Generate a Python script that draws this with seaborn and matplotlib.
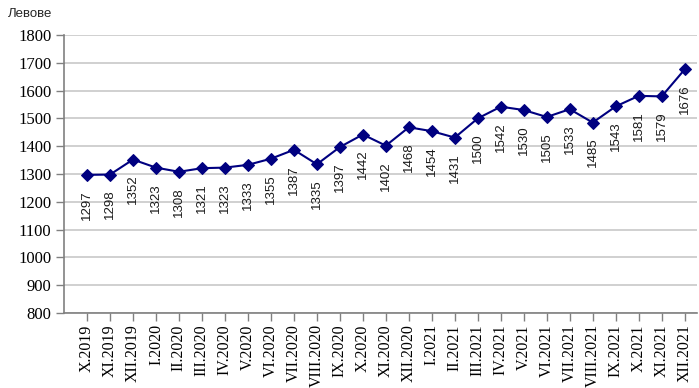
import seaborn as sns
import pandas as pd
import numpy as np
import matplotlib.pyplot as plt

months = ['X.2019', 'XI.2019', 'XII.2019',
          'I.2020', 'II.2020', 'III.2020', 'IV.2020', 'V.2020', 'VI.2020',
          'VII.2020', 'VIII.2020', 'IX.2020', 'X.2020', 'XI.2020', 'XII.2020',
          'I.2021', 'II.2021', 'III.2021', 'IV.2021', 'V.2021', 'VI.2021',
          'VII.2021', 'VIII.2021', 'IX.2021', 'X.2021', 'XI.2021', 'XII.2021']
wages = [1297, 1298, 1352, 1323, 1308, 1321, 1323, 1333, 1355, 1387, 1335,
         1397, 1442, 1402, 1468, 1454, 1431, 1500, 1542, 1530, 1505, 1533,
         1485, 1543, 1581, 1579, 1676]

df = pd.DataFrame({'pos': np.arange(len(months)), 'wage': wages})

sns.set_style('white')
fig = plt.figure(figsize=(6.99, 3.88), dpi=100)
ax = fig.add_axes([0.0916, 0.193, 0.906, 0.717])

sns.lineplot(data=df, x='pos', y='wage', ax=ax, color='#000080', linewidth=1.5,
             marker='D', markersize=6.5, markeredgecolor='#000080')

# value labels, vertical, under each point
for x, v in zip(df['pos'], wages):
    ax.annotate(str(v), (x, v), xytext=(0, -11), textcoords='offset points',
                rotation=90, ha='center', va='top', fontsize=9.5,
                family='Liberation Sans', color='#1a1a1a')

ax.set_ylim(800, 1800)
ax.set_yticks(range(800, 1801, 100))
ax.set_xlim(-1, 26.55)
ax.set_xticks(df['pos'])
ax.set_xticklabels(months, rotation=90, va='top', ha='center')
for lab in ax.get_yticklabels():
    lab.set_family('Liberation Serif')
    lab.set_fontsize(12)
    lab.set_color('black')
for lab in ax.get_xticklabels():
    lab.set_family('Liberation Serif')
    lab.set_fontsize(11.5)
    lab.set_color('black')

ax.yaxis.grid(True, color='#c8c8c8', linewidth=1.2)
ax.set_axisbelow(True)
ax.set_xlabel('')
ax.set_ylabel('')
for s in ['top', 'right']:
    ax.spines[s].set_visible(False)
for s in ['left', 'bottom']:
    ax.spines[s].set_color('#808080')
    ax.spines[s].set_linewidth(1.2)
ax.tick_params(axis='both', direction='out', length=6, width=1, color='#808080',
               left=True, bottom=True, pad=3)
ax.tick_params(axis='x', pad=2)

fig.text(0.012, 0.965, 'Левове', fontsize=9.5, family='Liberation Sans',
         ha='left', va='center')

fig.savefig('out.png', dpi=100)
